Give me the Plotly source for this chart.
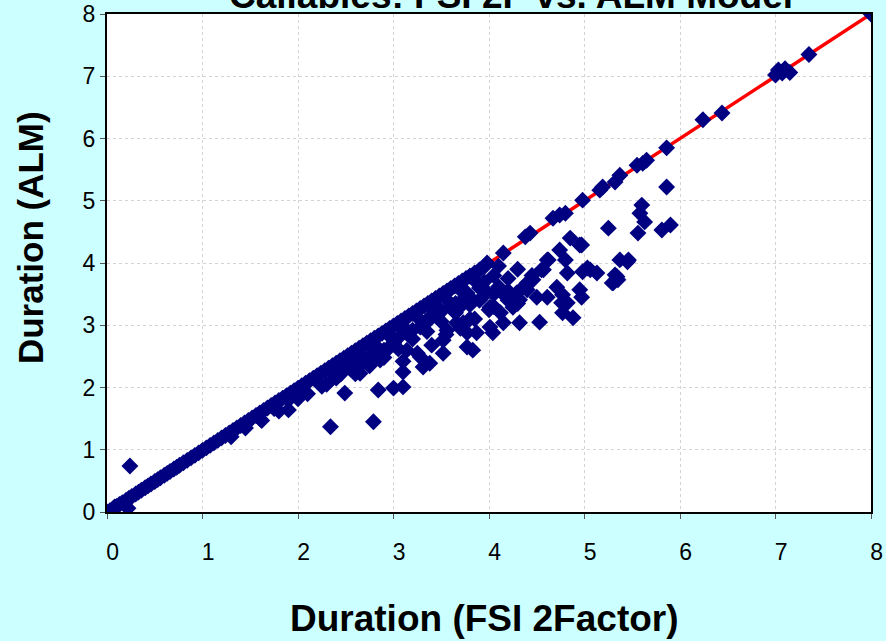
import plotly.graph_objects as go

# Reference line y = x
line_x = [0, 8]
line_y = [0, 8]

# Points lying on (or right at) the diagonal
diag_x = [0.0, 0.03, 0.06, 0.08, 0.1, 0.13, 0.16, 0.2, 0.23, 0.26, 0.3, 0.33, 0.36, 0.4, 0.43, 0.46,
          0.5, 0.53, 0.56, 0.6, 0.63, 0.66, 0.7, 0.73, 0.76, 0.8, 0.84, 0.88, 0.92, 0.96, 1.0, 1.04,
          1.08, 1.12, 1.16, 1.2, 1.24, 1.28, 1.32, 1.36, 1.4, 1.44, 1.48, 1.52, 1.56, 1.6, 1.64, 1.68,
          1.72, 1.76, 1.8, 1.84, 1.88, 1.92, 1.96, 2.0, 2.04, 2.08, 2.12, 2.16, 2.2, 2.24, 2.28, 2.32,
          2.36, 2.4, 2.44, 2.48, 2.52, 2.56, 2.6, 2.64, 2.68, 2.72, 2.76, 2.8, 2.84, 2.88, 2.92, 2.96,
          3.0, 3.04, 3.08, 3.12, 3.16, 3.2, 3.24, 3.28, 3.32, 3.36, 3.4, 3.44, 3.48, 3.52, 3.56, 3.6,
          3.64, 3.68, 3.72, 3.76, 3.8, 3.85, 3.9, 3.95,
          3.98, 4.15, 4.38, 4.43, 4.67, 4.74, 4.8, 4.98, 5.16, 5.19, 5.32, 5.37, 5.55, 5.61, 5.65, 5.86,
          6.24, 6.44, 7.0, 7.03, 7.07, 7.1, 7.15, 7.35, 8.0]
diag_y = [0.0, 0.02, 0.05, 0.08, 0.09, 0.12, 0.15, 0.19, 0.22, 0.25, 0.29, 0.32, 0.35, 0.39, 0.42, 0.45,
          0.49, 0.52, 0.55, 0.59, 0.62, 0.65, 0.69, 0.72, 0.75, 0.79, 0.83, 0.87, 0.91, 0.95, 0.99, 1.03,
          1.07, 1.11, 1.15, 1.19, 1.23, 1.27, 1.31, 1.35, 1.39, 1.43, 1.47, 1.51, 1.55, 1.59, 1.63, 1.67,
          1.71, 1.75, 1.79, 1.83, 1.87, 1.91, 1.95, 1.99, 2.03, 2.07, 2.11, 2.15, 2.19, 2.23, 2.27, 2.31,
          2.35, 2.39, 2.43, 2.47, 2.51, 2.55, 2.59, 2.63, 2.67, 2.71, 2.75, 2.79, 2.83, 2.87, 2.91, 2.95,
          2.99, 3.03, 3.07, 3.11, 3.15, 3.19, 3.23, 3.27, 3.31, 3.35, 3.39, 3.43, 3.47, 3.51, 3.55, 3.59,
          3.63, 3.67, 3.71, 3.75, 3.79, 3.84, 3.89, 3.94,
          4.0, 4.16, 4.42, 4.48, 4.72, 4.77, 4.8, 5.01, 5.17, 5.22, 5.3, 5.41, 5.57, 5.6, 5.65, 5.85,
          6.3, 6.41, 7.02, 7.1, 7.05, 7.12, 7.06, 7.35, 8.0]

# Dense band just below the diagonal
band_x = [1.3, 1.45, 1.6, 1.75, 1.9, 2.05, 2.2, 2.35, 2.5, 2.65, 2.8, 2.95, 3.1, 3.25, 3.4, 3.55, 3.7, 3.85,
          2.1, 2.25, 2.4, 2.55, 2.7, 2.85, 3.0, 3.15, 3.3, 3.45, 3.6, 3.75, 3.9,
          2.6, 2.75, 2.9, 3.05, 3.2, 3.35, 3.5, 3.65, 3.8, 3.95, 4.1,
          3.1, 3.25, 3.4, 3.55, 3.7, 3.85, 4.0, 4.2,
          1.8, 2.0, 2.3, 2.45, 2.6, 2.75, 2.9, 3.05, 3.2, 3.35, 3.5, 3.65, 3.8, 3.95, 4.05, 4.2, 4.3,
          3.95, 4.05, 4.1, 4.2, 4.3, 4.35, 4.45, 3.9, 4.05, 4.15, 3.8, 3.7]
band_y = [1.21, 1.35, 1.5, 1.66, 1.8, 1.94, 2.1, 2.24, 2.4, 2.54, 2.69, 2.84, 2.98, 3.13, 3.28, 3.42, 3.57, 3.72,
          1.9, 2.02, 2.15, 2.3, 2.43, 2.57, 2.72, 2.86, 3.0, 3.14, 3.3, 3.45, 3.6,
          2.22, 2.35, 2.48, 2.62, 2.78, 2.9, 3.06, 3.2, 3.33, 3.48, 3.62,
          2.42, 2.55, 2.68, 2.85, 2.95, 3.1, 3.25, 3.4,
          1.62, 1.82, 2.05, 2.22, 2.38, 2.5, 2.6, 2.8, 2.92, 3.05, 3.22, 3.35, 3.45, 3.58, 3.5, 3.55, 3.35,
          3.7, 3.8, 3.95, 3.75, 3.9, 3.6, 3.8, 3.4, 3.3, 3.5, 3.1, 3.3]

# Scattered points below the band
off_x = [0.24, 0.22, 1.62, 1.9, 2.34, 2.49, 2.79, 2.84, 3.0, 3.1, 3.1, 3.31, 3.38, 2.55, 2.67, 2.79,
         2.93, 3.14, 3.28, 3.52, 3.77, 3.83, 3.77, 3.66, 3.52, 3.38, 3.46, 3.62, 3.77, 3.59, 3.73, 3.56,
         3.28, 3.0, 2.86, 2.65, 2.41, 3.87, 4.04, 4.01, 4.01, 4.12, 4.15, 4.25, 4.32, 4.32, 4.4, 4.46,
         4.5, 4.53, 4.57, 4.62, 4.61, 4.55, 4.61, 4.71, 4.74, 4.76, 4.77, 4.77, 4.8, 4.82, 4.82, 4.85,
         4.88, 4.95, 4.95, 4.97, 4.98, 5.03, 5.06, 5.13, 5.25, 5.29, 5.3, 5.32, 5.34, 5.35, 5.37, 5.45,
         5.46, 5.56, 5.58, 5.6, 5.63, 5.81, 5.86, 5.9, 4.29, 4.97, 4.4]
off_y = [0.74, 0.06, 1.47, 1.64, 1.37, 1.91, 1.45, 1.96, 1.99, 2.01, 2.25, 2.33, 2.39, 2.33, 2.39, 2.55,
         2.6, 2.6, 2.49, 2.55, 2.65, 2.6, 2.88, 3.04, 2.76, 3.13, 3.29, 3.25, 3.52, 3.57, 3.04, 2.92,
         2.97, 2.71, 2.44, 2.23, 2.17, 2.88, 2.88, 2.97, 3.29, 3.2, 3.04, 3.29, 3.41, 3.04, 3.57, 3.73,
         3.45, 3.05, 3.89, 4.05, 3.45, 3.89, 4.05, 3.61, 4.21, 3.36, 3.49, 3.2, 4.05, 3.84, 3.36, 4.4,
         3.12, 4.29, 3.57, 3.45, 3.86, 3.92, 3.89, 3.84, 4.56, 3.68, 3.68, 3.81, 3.78, 3.73, 4.05, 4.02,
         4.05, 4.48, 4.8, 4.93, 4.66, 4.53, 5.22, 4.61, 3.52, 4.29, 3.68]

x_ticks = [0, 1, 2, 3, 4, 5, 6, 7, 8]
y_ticks = [0, 1, 2, 3, 4, 5, 6, 7, 8]

title_text = "Callables: FSI 2F vs. ALM Model"
x_title = "Duration (FSI 2Factor)"
y_title = "Duration (ALM)"

all_x = diag_x + band_x + off_x
all_y = diag_y + band_y + off_y

fig = go.Figure()
fig.add_trace(go.Scatter(x=line_x, y=line_y, mode="lines",
                         line=dict(color="#FF0000", width=3.5), hoverinfo="skip", showlegend=False))
fig.add_trace(go.Scatter(x=all_x, y=all_y, mode="markers",
                         marker=dict(symbol="diamond", size=13, color="#000080", line=dict(width=0)),
                         showlegend=False))

font_family = "Arial, Liberation Sans, sans-serif"

axis_common = dict(
    range=[0, 8], tickmode="array", showline=True, linecolor="black", linewidth=2, mirror=True,
    showgrid=True, gridcolor="#D3D3D3", gridwidth=1, griddash="dot", zeroline=False,
    ticks="outside", ticklen=5, tickcolor="#555555",
    tickfont=dict(family=font_family, size=23, color="black"),
)

fig.update_xaxes(tickvals=x_ticks, ticktext=["\u2002" + str(v) for v in x_ticks],
                 ticklabelstandoff=13, **axis_common)
fig.update_yaxes(tickvals=y_ticks, ticktext=[str(v) for v in y_ticks], ticklabelstandoff=0, **axis_common)

fig.update_layout(
    width=886, height=641,
    margin=dict(l=107, r=15, t=14, b=129, autoexpand=False),
    paper_bgcolor="#CCFFFF",
    plot_bgcolor="white",
    annotations=[
        dict(text="<b>" + title_text + "</b>", xref="paper", yref="paper", x=0.529, y=1.038,
             xanchor="center", yanchor="middle", showarrow=False,
             font=dict(family=font_family, size=37, color="black")),
        dict(text="<b>" + x_title + "</b>", xref="paper", yref="paper", x=0.4935, y=-0.213,
             xanchor="center", yanchor="middle", showarrow=False,
             font=dict(family=font_family, size=37, color="black")),
        dict(text="<b>" + y_title + "</b>", xref="paper", yref="paper", x=-0.1008, y=0.552,
             xanchor="center", yanchor="middle", textangle=-90, showarrow=False,
             font=dict(family=font_family, size=35, color="black")),
    ],
)

fig.write_html("out.html")
